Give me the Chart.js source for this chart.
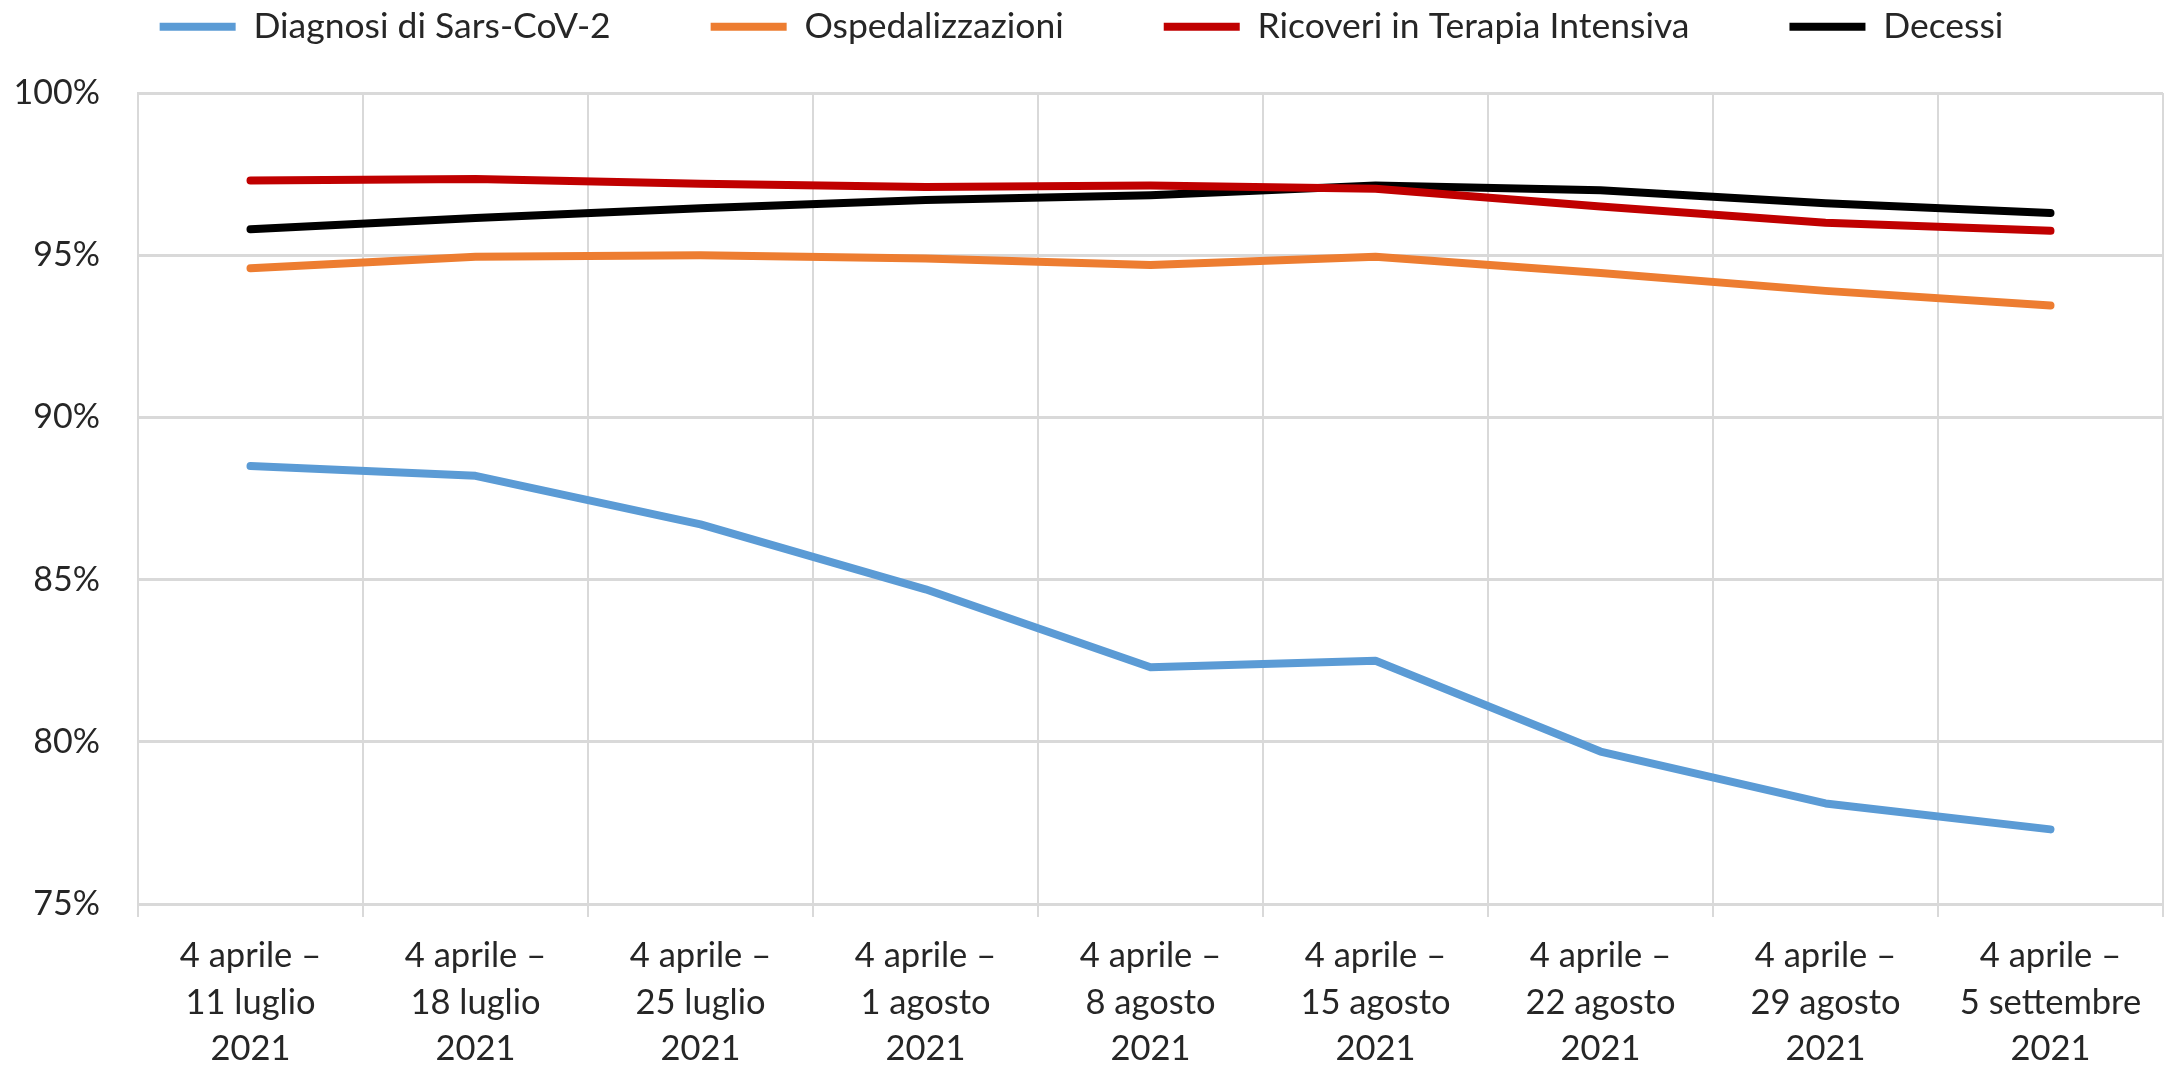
<!DOCTYPE html>
<html>
<head>
<meta charset="utf-8">
<script src="https://cdn.jsdelivr.net/npm/chart.js@4"></script>
<style>
  html, body { margin: 0; padding: 0; background: #ffffff; }
  #wrap { width: 2170px; height: 1071px; position: relative; }
</style>
</head>
<body>
<div id="wrap"><canvas id="c" width="2170" height="1071"></canvas></div>
<script>
const categories = [
  ["4 aprile –", "11 luglio", "2021"],
  ["4 aprile –", "18 luglio", "2021"],
  ["4 aprile –", "25 luglio", "2021"],
  ["4 aprile –", "1 agosto", "2021"],
  ["4 aprile –", "8 agosto", "2021"],
  ["4 aprile –", "15 agosto", "2021"],
  ["4 aprile –", "22 agosto", "2021"],
  ["4 aprile –", "29 agosto", "2021"],
  ["4 aprile –", "5 settembre", "2021"]
];
const seriesNames = ["Diagnosi di Sars-CoV-2", "Ospedalizzazioni", "Ricoveri in Terapia Intensiva", "Decessi"];
const diagnosi = [88.5, 88.2, 86.7, 84.7, 82.3, 82.5, 79.7, 78.1, 77.3];
const ospedalizzazioni = [94.6, 94.95, 95.0, 94.9, 94.7, 94.95, 94.45, 93.9, 93.45];
const terapiaIntensiva = [97.3, 97.35, 97.2, 97.1, 97.15, 97.05, 96.5, 96.0, 95.75];
const decessi = [95.8, 96.15, 96.45, 96.7, 96.85, 97.15, 97.0, 96.6, 96.3];
const yTicks = [75, 80, 85, 90, 95, 100];

const colors = ["#5B9BD5", "#ED7D31", "#C00000", "#000000"];
const FONT = "Lato, 'Open Sans', sans-serif";
const TEXT = "#262626";

function ds(label, data, color) {
  return {
    label, data,
    borderColor: color, backgroundColor: color,
    borderWidth: 8, pointRadius: 0, pointHoverRadius: 0,
    tension: 0, borderCapStyle: 'round', borderJoinStyle: 'round',
    fill: false
  };
}

const chart = new Chart(document.getElementById('c'), {
  type: 'line',
  data: {
    labels: categories,
    datasets: [
      ds(seriesNames[0], diagnosi, colors[0]),
      ds(seriesNames[1], ospedalizzazioni, colors[1]),
      ds(seriesNames[2], terapiaIntensiva, colors[2]),
      ds(seriesNames[3], decessi, colors[3])
    ]
  },
  options: {
    responsive: false,
    animation: false,
    devicePixelRatio: 1,
    layout: { padding: { top: -91, left: 0, right: 7, bottom: 0 } },
    plugins: {
      tooltip: { enabled: false },
      legend: {
        position: 'top',
        labels: {
          usePointStyle: true,
          pointStyle: 'line',
          pointStyleWidth: 76,
          padding: 100,
          color: TEXT,
          font: { family: FONT, size: 35.5 }
        }
      }
    },
    scales: {
      x: {
        offset: true,
        afterFit: (s) => { s.height = 167; },
        grid: { offset: true, color: '#D9D9D9', lineWidth: 2, drawTicks: true, tickLength: 13, tickColor: '#D9D9D9' },
        border: { display: true, color: '#D9D9D9', width: 3 },
        ticks: {
          color: TEXT, padding: 15, maxRotation: 0, autoSkip: false,
          font: { family: FONT, size: 34.5, lineHeight: 1.36 }
        }
      },
      y: {
        min: 75, max: 100,
        afterBuildTicks: (s) => { s.ticks = yTicks.map(v => ({ value: v })); },
        afterFit: (s) => { s.width = 138; },
        grid: { color: '#D9D9D9', lineWidth: 3, drawTicks: false, tickLength: 0 },
        border: { display: true, color: '#D9D9D9', width: 2 },
        ticks: {
          color: TEXT, padding: 38,
          font: { family: FONT, size: 34 },
          callback: (v) => v + '%'
        }
      }
    }
  }
});

// enlarge legend box so the plot starts at the reference position
const lg = chart.legend;
const origFit = lg.fit.bind(lg);
lg.fit = function () { origFit(); this.height = 184; };
chart.update();
</script>
</body>
</html>
